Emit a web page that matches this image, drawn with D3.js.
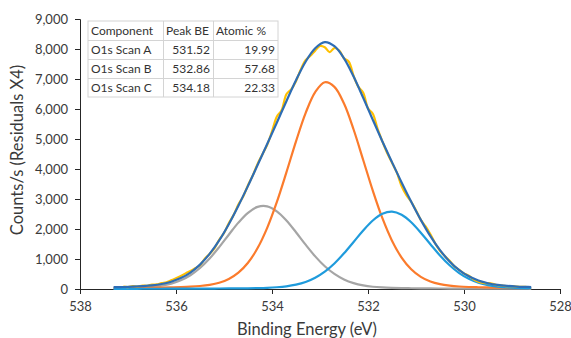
<!DOCTYPE html>
<html>
<head>
<meta charset="utf-8">
<script src="https://cdn.jsdelivr.net/npm/d3@7"></script>
<style>
  html, body { margin: 0; padding: 0; background: #fff; }
  svg { display: block; font-family: Lato, "Open Sans", sans-serif; }
</style>
</head>
<body>
<svg id="chart" width="571" height="338"></svg>
<script>
// fitted curves, sampled every 0.2 eV
var bindingEnergy = [537.3, 537.1, 536.9, 536.7, 536.5, 536.3, 536.1, 535.9, 535.7, 535.5,
  535.3, 535.1, 534.9, 534.7, 534.5, 534.3, 534.1, 533.9, 533.7, 533.5,
  533.3, 533.1, 532.9, 532.7, 532.5, 532.3, 532.1, 531.9, 531.7, 531.5,
  531.3, 531.1, 530.9, 530.7, 530.5, 530.3, 530.1, 529.9, 529.7, 529.5,
  529.3, 529.1, 528.9, 528.7, 528.6]
var scanA = [6, 7, 7, 8, 9, 9, 10, 11, 12, 13, 15, 16, 18, 21, 24, 30, 40, 58, 89, 144,
  234, 375, 578, 851, 1189, 1569, 1952, 2284, 2507, 2579, 2474, 2225, 1878, 1492, 1117,
  791, 532, 342, 213, 131, 82, 54, 38, 29, 26]
var scanB = [30, 32, 35, 39, 43, 48, 55, 63, 76, 99, 139, 209, 333, 543, 874, 1365, 2039,
  2895, 3886, 4920, 5864, 6562, 6891, 6739, 6181, 5317, 4301, 3279, 2360, 1612, 1049,
  658, 405, 250, 161, 112, 83, 67, 58, 51, 44, 40, 36, 33, 32]
var scanC = [24, 28, 36, 49, 70, 110, 179, 290, 460, 700, 1016, 1396, 1810, 2212, 2539,
  2737, 2755, 2590, 2285, 1893, 1477, 1088, 758, 502, 319, 197, 121, 76, 52, 38, 29, 25,
  22, 19, 17, 15, 14, 13, 12, 11, 10, 9, 8, 8, 7]
var envelope = [60, 67, 78, 96, 122, 167, 244, 364, 548, 812, 1170, 1621, 2161, 2776,
  3437, 4132, 4834, 5543, 6260, 6957, 7575, 8025, 8227, 8092, 7689, 7083, 6374, 5639,
  4919, 4229, 3552, 2908, 2305, 1761, 1295, 918, 629, 422, 283, 193, 136, 103, 82, 70, 65]

// measured spectrum, every 0.1 eV
var rawEnergy = [537.1, 537.0, 536.9, 536.8, 536.7, 536.6, 536.5, 536.4, 536.3, 536.2,
  536.1, 536.0, 535.9, 535.8, 535.7, 535.6, 535.5, 535.4, 535.3, 535.2,
  535.1, 535.0, 534.9, 534.8, 534.7, 534.6, 534.5, 534.4, 534.3, 534.2,
  534.1, 534.0, 533.9, 533.8, 533.7, 533.6, 533.5, 533.4, 533.3, 533.2,
  533.1, 533.0, 532.9, 532.8, 532.7, 532.6, 532.5, 532.4, 532.3, 532.2,
  532.1, 532.0, 531.9, 531.8, 531.7, 531.6, 531.5, 531.4, 531.3, 531.2,
  531.1, 531.0, 530.9, 530.8, 530.7, 530.6, 530.5, 530.4, 530.3, 530.2,
  530.1, 530.0, 529.9, 529.8, 529.7, 529.6, 529.5, 529.4, 529.3, 529.2,
  529.1, 529.0, 528.9, 528.8, 528.7]
var rawCounts = [77, 62, 93, 81, 116, 108, 147, 152, 197, 222,
  289, 360, 434, 521, 598, 693, 792, 1012, 1170, 1358,
  1641, 1865, 2191, 2466, 2816, 3087, 3457, 3787, 4172, 4487,
  4804, 5252, 5743, 5955, 6490, 6654, 6927, 7320, 7625, 7776,
  7945, 8103, 8057, 7898, 8032, 7950, 7689, 7575, 7103, 6737,
  6544, 6026, 5839, 5336, 4919, 4532, 4209, 3886, 3432, 3125,
  2908, 2620, 2305, 2084, 1821, 1517, 1275, 1096, 938, 753,
  639, 517, 442, 326, 243, 203, 193, 171, 126, 117,
  93, 96, 77, 75, 75]

var xTicks = [538, 536, 534, 532, 530, 528]
var yTicks = [0, 1000, 2000, 3000, 4000, 5000, 6000, 7000, 8000, 9000]

var tableHeader = ['Component', 'Peak BE', 'Atomic %']
var components = ['O1s Scan A', 'O1s Scan B', 'O1s Scan C']
var peakBE = ['531.52', '532.86', '534.18']
var atomicPct = ['19.99', '57.68', '22.33']

var svg = d3.select('#chart')

var x = d3.scaleLinear().domain([538, 528]).range([80, 560])
var y = d3.scaleLinear().domain([0, 9000]).range([289, 19])

// axes
svg.append('g')
  .attr('transform', 'translate(80,0)')
  .call(d3.axisLeft(y).tickValues(yTicks).tickSize(5).tickPadding(7).tickFormat(d3.format(',')))
svg.append('g')
  .attr('transform', 'translate(0,289)')
  .call(d3.axisBottom(x).tickValues(xTicks).tickSize(5).tickPadding(8).tickFormat(d3.format('d')))

svg.selectAll('.domain, .tick line').attr('stroke', '#262626')
svg.selectAll('.tick text')
  .attr('fill', '#3a3a3a')
  .style('font-size', '13px')
  .style('font-family', 'Lato, sans-serif')

svg.append('text')
  .attr('x', 307)
  .attr('y', 335)
  .attr('text-anchor', 'middle')
  .attr('fill', '#3a3a3a')
  .style('font-size', '16.5px')
  .text('Binding Energy (eV)')

svg.append('text')
  .attr('transform', 'translate(23,150) rotate(-90)')
  .attr('text-anchor', 'middle')
  .attr('fill', '#3a3a3a')
  .style('font-size', '16.5px')
  .text('Counts/s (Residuals X4)')

// curves
function drawSeries(xs, ys, color, curve) {
  var pts = xs.map(function(d, i) { return [d, ys[i]] })
  var line = d3.line()
    .x(function(d) { return x(d[0]) })
    .y(function(d) { return y(d[1]) })
    .curve(curve)
  svg.append('path')
    .datum(pts)
    .attr('d', line)
    .attr('fill', 'none')
    .attr('stroke', color)
    .attr('stroke-width', 2.2)
    .attr('stroke-linejoin', 'round')
}

drawSeries(bindingEnergy, scanC, '#a5a5a5', d3.curveCatmullRom)
drawSeries(bindingEnergy, scanB, '#fb7b2c', d3.curveCatmullRom)
drawSeries(bindingEnergy, scanA, '#1f9bdc', d3.curveCatmullRom)
drawSeries(rawEnergy, rawCounts, '#ffc000', d3.curveCatmullRom)
drawSeries(bindingEnergy, envelope, '#2e6db5', d3.curveCatmullRom)

// results table
var colX = [88, 163, 213, 278]
var rowY = [21, 40, 59, 78, 97]
var rows = [tableHeader].concat(components.map(function(c, i) {
  return [c, peakBE[i], atomicPct[i]]
}))

var table = svg.append('g')
table.append('rect')
  .attr('x', colX[0]).attr('y', rowY[0])
  .attr('width', colX[3] - colX[0]).attr('height', rowY[4] - rowY[0])
  .attr('fill', '#fff')
  .attr('stroke', '#d4d4d4')

table.selectAll('line.row')
  .data(rowY.slice(1, 4))
  .enter()
  .append('line')
  .attr('x1', colX[0]).attr('x2', colX[3])
  .attr('y1', function(d) { return d + 0.5 })
  .attr('y2', function(d) { return d + 0.5 })
  .attr('stroke', '#d4d4d4')
table.selectAll('line.col')
  .data(colX.slice(1, 3))
  .enter()
  .append('line')
  .attr('x1', function(d) { return d + 0.5 })
  .attr('x2', function(d) { return d + 0.5 })
  .attr('y1', rowY[0]).attr('y2', rowY[4])
  .attr('stroke', '#d4d4d4')

rows.forEach(function(r, i) {
  r.forEach(function(txt, j) {
    var head = i == 0
    var right = !head && j > 0
    table.append('text')
      .attr('x', right ? colX[j + 1] - 3 : colX[j] + 3)
      .attr('y', rowY[i] + 14)
      .attr('text-anchor', right ? 'end' : 'start')
      .attr('fill', '#333')
      .style('font-size', '12px')
      .text(txt)
  })
})
</script>
</body>
</html>
